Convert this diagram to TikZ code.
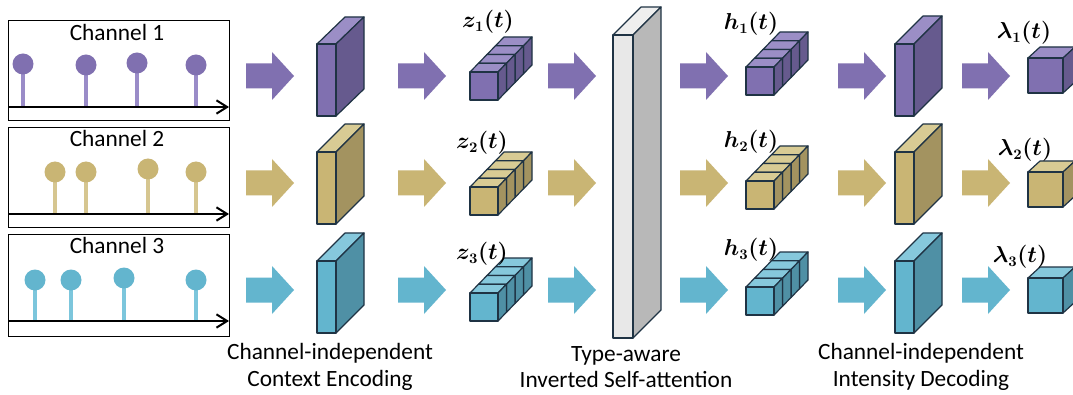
\documentclass[tikz,border=0pt]{standalone}
\usepackage[no-math]{fontspec}
\usepackage{bm}
\newfontfamily\carl{Carlito}
\usetikzlibrary{arrows.meta}
\definecolor{purF}{HTML}{8070B0}\definecolor{purS}{HTML}{665A8E}\definecolor{purT}{HTML}{9B8EC6}\definecolor{purL}{HTML}{9A8CC8}
\definecolor{golF}{HTML}{C9B574}\definecolor{golS}{HTML}{A39360}\definecolor{golT}{HTML}{D8CB94}\definecolor{golL}{HTML}{D6C690}
\definecolor{bluF}{HTML}{63B5CE}\definecolor{bluS}{HTML}{4F90A5}\definecolor{bluT}{HTML}{86C8DC}\definecolor{bluL}{HTML}{7CC6DC}
\definecolor{gryF}{HTML}{E8E8E8}\definecolor{gryS}{HTML}{B8B8B8}\definecolor{gryT}{HTML}{EEEEEE}
\definecolor{olc}{HTML}{1F3344}
\tikzset{
  ol/.style={draw=olc, line width=0.9pt, line join=round},
  panel/.style={draw=black, line width=0.9pt},
  axisline/.style={draw=black, line width=1.5pt, -{Straight Barb[length=8pt,width=10pt,line width=1.5pt]}},
  stem/.style={line width=2.3pt},
  title/.style={font=\carl\fontsize{17.5}{20}\selectfont, inner sep=0pt},
  caption/.style={font=\carl\fontsize{17.5}{20}\selectfont, align=center, inner sep=0pt},
  lab/.style={font=\fontsize{16}{18}\selectfont, inner sep=0pt},
}
% x, ytop, w, h, dx, dy, colour prefix
\newcommand\boxthree[7]{%
  \filldraw[fill=#7T, ol] (#1,#2) -- ++(#5,-#6) -- ++(#3,0) -- ++(-#5,#6) -- cycle;
  \filldraw[fill=#7S, ol] ({#1+#3},#2) -- ++(#5,-#6) -- ++(0,#4) -- ++(-#5,#6) -- cycle;
  \filldraw[fill=#7F, ol] (#1,#2) rectangle ++(#3,#4);
}
\newcommand\cuberow[3]{%
  \foreach \k in {3,2,1,0}{\boxthree{#1+\k*8.5}{#2-\k*8.75}{28}{28}{8.5}{8.75}{#3}}%
}
\newcommand\blockarrow[3]{%
  \fill[#3] (#1,{#2-12.5}) -- ++(26,0) -- ++(0,-11.5) -- ++(22,24) -- ++(-22,24) -- ++(0,-11.5) -- ++(-26,0) -- cycle;
}
\begin{document}
\begin{tikzpicture}[x=0.75pt,y=-0.75pt]
\useasboundingbox (0,0) rectangle (1073,395);
\fill[white] (0,0) rectangle (1073,395);
\clip (0,0) rectangle (1073,395);

% ---------- panels ----------
\node[panel, minimum width=221*0.75pt, minimum height=100*0.75pt, anchor=north west, inner sep=0pt] (p1) at (8,20) {};
\node[panel, minimum width=221*0.75pt, minimum height=100*0.75pt, anchor=north west, inner sep=0pt] (p2) at (8,127) {};
\node[panel, minimum width=221*0.75pt, minimum height=102*0.75pt, anchor=north west, inner sep=0pt] (p3) at (8,234) {};
\node[title] (t1) at (117,32) {Channel 1};
\node[title] (t2) at (117,138) {Channel 2};
\node[title] (t3) at (117,245) {Channel 3};

% panel 1
\foreach \x/\y in {23/64,86/65,137/63,196/65}{
  \draw[stem, purL] (\x,107) -- (\x,\y);
  \fill[purF] (\x,\y) circle[radius=10.5];
}
\coordinate (a1s) at (8,107); \coordinate (a1e) at (229,107);
\draw[axisline] (a1s) -- (a1e);
% panel 2
\foreach \x/\y in {55/172,86/172,148/169,196/172}{
  \draw[stem, golL] (\x,214) -- (\x,\y);
  \fill[golF] (\x,\y) circle[radius=10.5];
}
\coordinate (a2s) at (8,214); \coordinate (a2e) at (229,214);
\draw[axisline] (a2s) -- (a2e);
% panel 3
\foreach \x/\y in {35/280,71/280,124/278,196/280}{
  \draw[stem, bluL] (\x,321) -- (\x,\y);
  \fill[bluF] (\x,\y) circle[radius=10.5];
}
\coordinate (a3s) at (8,321); \coordinate (a3e) at (229,321);
\draw[axisline] (a3s) -- (a3e);

% ---------- block arrows ----------
\foreach \xa in {246,398,548,680,838,962}{
  \blockarrow{\xa}{76}{purF}
  \blockarrow{\xa}{183}{golF}
  \blockarrow{\xa}{290}{bluF}
}

% ---------- encoding slabs ----------
\boxthree{317}{44}{19}{72}{28}{27}{pur}
\boxthree{317}{152}{19}{72}{28}{28}{gol}
\boxthree{317}{261}{19}{72}{28}{28}{blu}

% ---------- z cubes ----------
\cuberow{470}{72}{pur}
\cuberow{470}{187}{gol}
\cuberow{470}{293}{blu}
\node[lab] (z1) at (488,22) {$\bm{z_1(t)}$};
\node[lab] (z2) at (482,143) {$\bm{z_2(t)}$};
\node[lab] (z3) at (482,254) {$\bm{z_3(t)}$};

% ---------- attention slab ----------
\boxthree{613}{35}{20}{303}{28}{28}{gry}

% ---------- h cubes ----------
\cuberow{746}{67}{pur}
\cuberow{746}{181}{gol}
\cuberow{746}{287}{blu}
\node[lab] (h1) at (751,24) {$\bm{h_1(t)}$};
\node[lab] (h2) at (751,142) {$\bm{h_2(t)}$};
\node[lab] (h3) at (751,250) {$\bm{h_3(t)}$};

% ---------- decoding slabs ----------
\boxthree{895}{44}{19}{72}{28}{28}{pur}
\boxthree{895}{152}{19}{72}{28}{28}{gol}
\boxthree{895}{261}{19}{72}{28}{28}{blu}

% ---------- lambda cubes ----------
\boxthree{1028}{58}{35}{35}{12}{11}{pur}
\boxthree{1028}{172}{35}{35}{12}{11}{gol}
\boxthree{1028}{278}{35}{35}{12}{11}{blu}
\node[lab] (l1) at (1024,33) {$\bm{\lambda_1(t)}$};
\node[lab] (l2) at (1025,150) {$\bm{\lambda_2(t)}$};
\node[lab] (l3) at (1020,257) {$\bm{\lambda_3(t)}$};

% ---------- captions ----------
\node[caption] (c1) at (330,367) {Channel-independent\\Context Encoding};
\node[caption] (c2) at (626,367) {Type-aware\\Inverted Self-attention};
\node[caption] (c3) at (921,367) {Channel-independent\\Intensity Decoding};
\end{tikzpicture}
\end{document}
